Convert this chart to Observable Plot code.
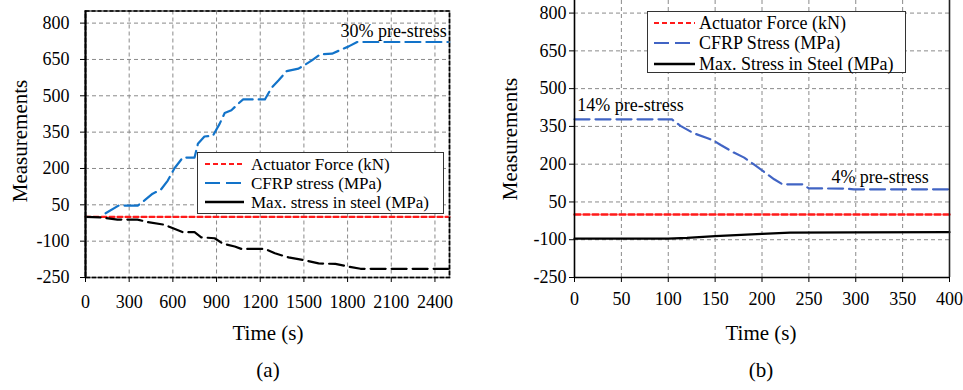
<!DOCTYPE html>
<html><head><meta charset="utf-8">
<script src="https://cdn.jsdelivr.net/npm/d3@7"></script>
<script src="https://cdn.jsdelivr.net/npm/@observablehq/plot@0.6"></script>
<style>
body{margin:0;background:#fff;}
#wrap{position:relative;width:963px;height:390px;overflow:hidden;font-family:"Liberation Serif","Times New Roman",serif;color:#000;background:#fff;}
.abs{position:absolute;white-space:nowrap;line-height:1;}
.plot{position:absolute;top:0;}
.legend{position:absolute;background:#fff;border:1px solid #333;box-sizing:border-box;}
.row{position:absolute;left:0;white-space:nowrap;line-height:1;}
.row svg{position:absolute;top:-2px;}
.row span{position:absolute;transform:translateY(-50%);}
</style></head><body><div id="wrap"></div>
<script>
// ---------- shared ----------
const yTicks = [-250, -100, 50, 200, 350, 500, 650, 800];
const yLabel = "Measurements";
const xLabel = "Time (s)";

// ---------- panel (a) ----------
const xTicksA = [0, 300, 600, 900, 1200, 1500, 1800, 2100, 2400];
const forceTimeA = [0, 2500];
const forceA = [0, 0];
const cfrpTimeA = [138, 228, 359, 403, 461, 518, 565, 610, 668, 749, 772, 817, 876, 921, 956, 1002, 1048, 1083, 1232, 1278, 1325, 1382, 1463, 1555, 1612, 1693, 1808, 1866, 2500];
const cfrpA =     [15, 47, 47, 67, 96, 113, 150, 200, 245, 245, 302, 332, 336, 384, 429, 440, 467, 485, 485, 533, 563, 602, 612, 646, 671, 674, 704, 722, 722];
const steelTimeA = [0, 104, 219, 357, 426, 541, 610, 668, 749, 795, 887, 945, 1025, 1071, 1232, 1301, 1394, 1497, 1601, 1716, 1808, 1889, 2500];
const steelA =     [0, -2, -11, -11, -21, -32, -49, -63, -63, -84, -88, -111, -122, -132, -132, -150, -167, -178, -192, -194, -205, -214, -214];
const legendA = ["Actuator Force (kN)", "CFRP stress (MPa)", "Max. stress in steel (MPa)"];
const noteTextA = ["30% pre-stress"];
const noteTimeA = [2482];
const noteValA = [766];

// ---------- panel (b) ----------
const xTicksB = [0, 50, 100, 150, 200, 250, 300, 350, 400];
const forceTimeB = [0, 400];
const forceB = [0, 0];
const cfrpTimeB = [0, 104, 113, 127, 142, 149, 156, 170, 181, 191, 202, 213, 222, 243, 250, 291, 298, 400];
const cfrpB =     [378, 378, 352, 323, 303, 292, 276, 246, 226, 200, 170, 140, 120, 120, 104, 103, 100, 100];
const steelTimeB = [0, 100, 120, 150, 200, 230, 300, 400];
const steelB =     [-96, -96, -93, -86, -77, -72, -71, -70];
const legendB = ["Actuator Force (kN)", "CFRP Stress (MPa)", "Max. Stress in Steel (MPa)"];
const noteTextB = ["14% pre-stress", "4% pre-stress"];
const noteTimeB = [3, 274];
const noteValB = [435, 149];
const captions = ["(a)", "(b)"];

// colours / styles
const RED = "#ff1a1a", BLUE_A = "#1273c9", BLUE_B = "#4164c4";
const FONT = '"Liberation Serif", "Times New Roman", serif';

function series(t, v) { return t.map((x, i) => ({t: x, v: v[i]})); }
function notes(txt, t, v) { return txt.map((s, i) => ({text: s, t: t[i], v: v[i]})); }
const fmt = d => String(d);
const baseStyle = {fontFamily: FONT, fontSize: "18px", color: "#000", background: "transparent", overflow: "visible"};
const gridStyle = {stroke: "#8a8a8a", strokeOpacity: 1, strokeWidth: 1, strokeDasharray: "4,3"};

const plotA = Plot.plot({
  width: 481, height: 350,
  marginLeft: 85, marginRight: 32, marginTop: 10.5, marginBottom: 73,
  x: {domain: [0, 2500]},
  y: {domain: [-250, 850]},
  style: baseStyle,
  marks: [
    Plot.gridX(xTicksA.slice(1), gridStyle),
    Plot.gridY(yTicks, gridStyle),
    Plot.line(series(forceTimeA, forceA), {x: "t", y: "v", stroke: RED, strokeWidth: 2.2, strokeDasharray: "5,3"}),
    Plot.line(series(steelTimeA, steelA), {x: "t", y: "v", stroke: "#000", strokeWidth: 2.2, strokeDasharray: "15,6"}),
    Plot.line(series(cfrpTimeA, cfrpA), {x: "t", y: "v", stroke: BLUE_A, strokeWidth: 2.2, strokeDasharray: "15,6"}),
    Plot.text(notes(noteTextA, noteTimeA, noteValA), {x: "t", y: "v", text: "text", textAnchor: "end", fontSize: 18}),
    Plot.frame({stroke: "#666", strokeWidth: 1.6}),
    Plot.frame({stroke: "#000", strokeWidth: 1.6, strokeDasharray: "4,2"}),
    Plot.ruleX([0], {stroke: "#000", strokeWidth: 2}),
    Plot.axisY(yTicks, {tickSize: 5, tickPadding: 11, tickFormat: fmt, label: null}),
    Plot.axisX(xTicksA, {tickSize: 5, tickPadding: 13, tickFormat: fmt, label: null})
  ]
});

const plotB = Plot.plot({
  width: 482, height: 350,
  marginLeft: 93, marginRight: 14, marginTop: 0, marginBottom: 73,
  x: {domain: [0, 400]},
  y: {domain: [-250, 850]},
  style: baseStyle,
  marks: [
    Plot.gridX(xTicksB.slice(1, -1), gridStyle),
    Plot.gridY(yTicks.slice(1), gridStyle),
    Plot.line(series(forceTimeB, forceB), {x: "t", y: "v", stroke: RED, strokeWidth: 2.4, strokeDasharray: "6,3"}),
    Plot.line(series(steelTimeB, steelB), {x: "t", y: "v", stroke: "#000", strokeWidth: 2.2}),
    Plot.line(series(cfrpTimeB, cfrpB), {x: "t", y: "v", stroke: BLUE_B, strokeWidth: 2.2, strokeDasharray: "15,6"}),
    Plot.text(notes(noteTextB, noteTimeB, noteValB), {x: "t", y: "v", text: "text", textAnchor: "start", fontSize: 18}),
    Plot.ruleX([0], {stroke: "#000", strokeWidth: 1.6}),
    Plot.ruleX([400], {stroke: "#222", strokeWidth: 1.6}),
    Plot.ruleY([-250], {stroke: "#000", strokeWidth: 1.6}),
    Plot.axisY(yTicks, {tickSize: 5, tickPadding: 3, tickFormat: fmt, label: null}),
    Plot.axisX(xTicksB, {tickSize: 5, tickPadding: 10, tickFormat: fmt, label: null})
  ]
});

const wrap = document.getElementById("wrap");
function place(el, left) { el.classList.add("plot"); el.style.left = left + "px"; wrap.appendChild(el); }
place(plotA, 0);
place(plotB, 481);

function text(str, x, y, size, rotate) {
  const d = document.createElement("div");
  d.className = "abs";
  d.textContent = str;
  d.style.fontSize = size + "px";
  d.style.left = x + "px";
  d.style.top = y + "px";
  d.style.transform = "translate(-50%,-50%)" + (rotate ? " rotate(-90deg)" : "");
  wrap.appendChild(d);
}
text(yLabel, 20, 141, 21, true);
text(yLabel, 510, 139, 21, true);
text(xLabel, 268, 333, 21);
text(xLabel, 761, 333, 21);
text(captions[0], 268, 370, 21);
text(captions[1], 761, 370, 21);

const styles = [
  {stroke: RED, dash: "5,3", w: 2.2},
  {stroke: null, dash: "15,6", w: 2.2},
  {stroke: "#000", dash: null, w: 2.4}
];
function legend(labels, box, rows, sx0, sx1, tx, size, blue) {
  const L = document.createElement("div");
  L.className = "legend";
  Object.assign(L.style, {left: box[0] + "px", top: box[1] + "px", width: box[2] + "px", height: box[3] + "px"});
  labels.forEach((lab, i) => {
    const s = styles[i];
    const r = document.createElement("div");
    r.className = "row";
    r.style.top = rows[i] + "px";
    const w = sx1 - sx0;
    r.innerHTML = `<svg width="${w}" height="4" style="left:${sx0}px"><line x1="0" y1="2" x2="${w}" y2="2" stroke="${s.stroke || blue}" stroke-width="${s.w}" ${s.dash ? `stroke-dasharray="${s.dash}"` : ""}/></svg><span style="left:${tx}px;font-size:${size}px">${lab}</span>`;
    L.appendChild(r);
  });
  wrap.appendChild(L);
}
legend(legendA, [197, 152, 247, 62], [11, 30, 49], 7, 46, 53, 17, BLUE_A);
legend(legendB, [647, 11, 259, 62], [11, 31, 52], 6, 47, 51, 18, BLUE_B);
</script>
</body></html>
